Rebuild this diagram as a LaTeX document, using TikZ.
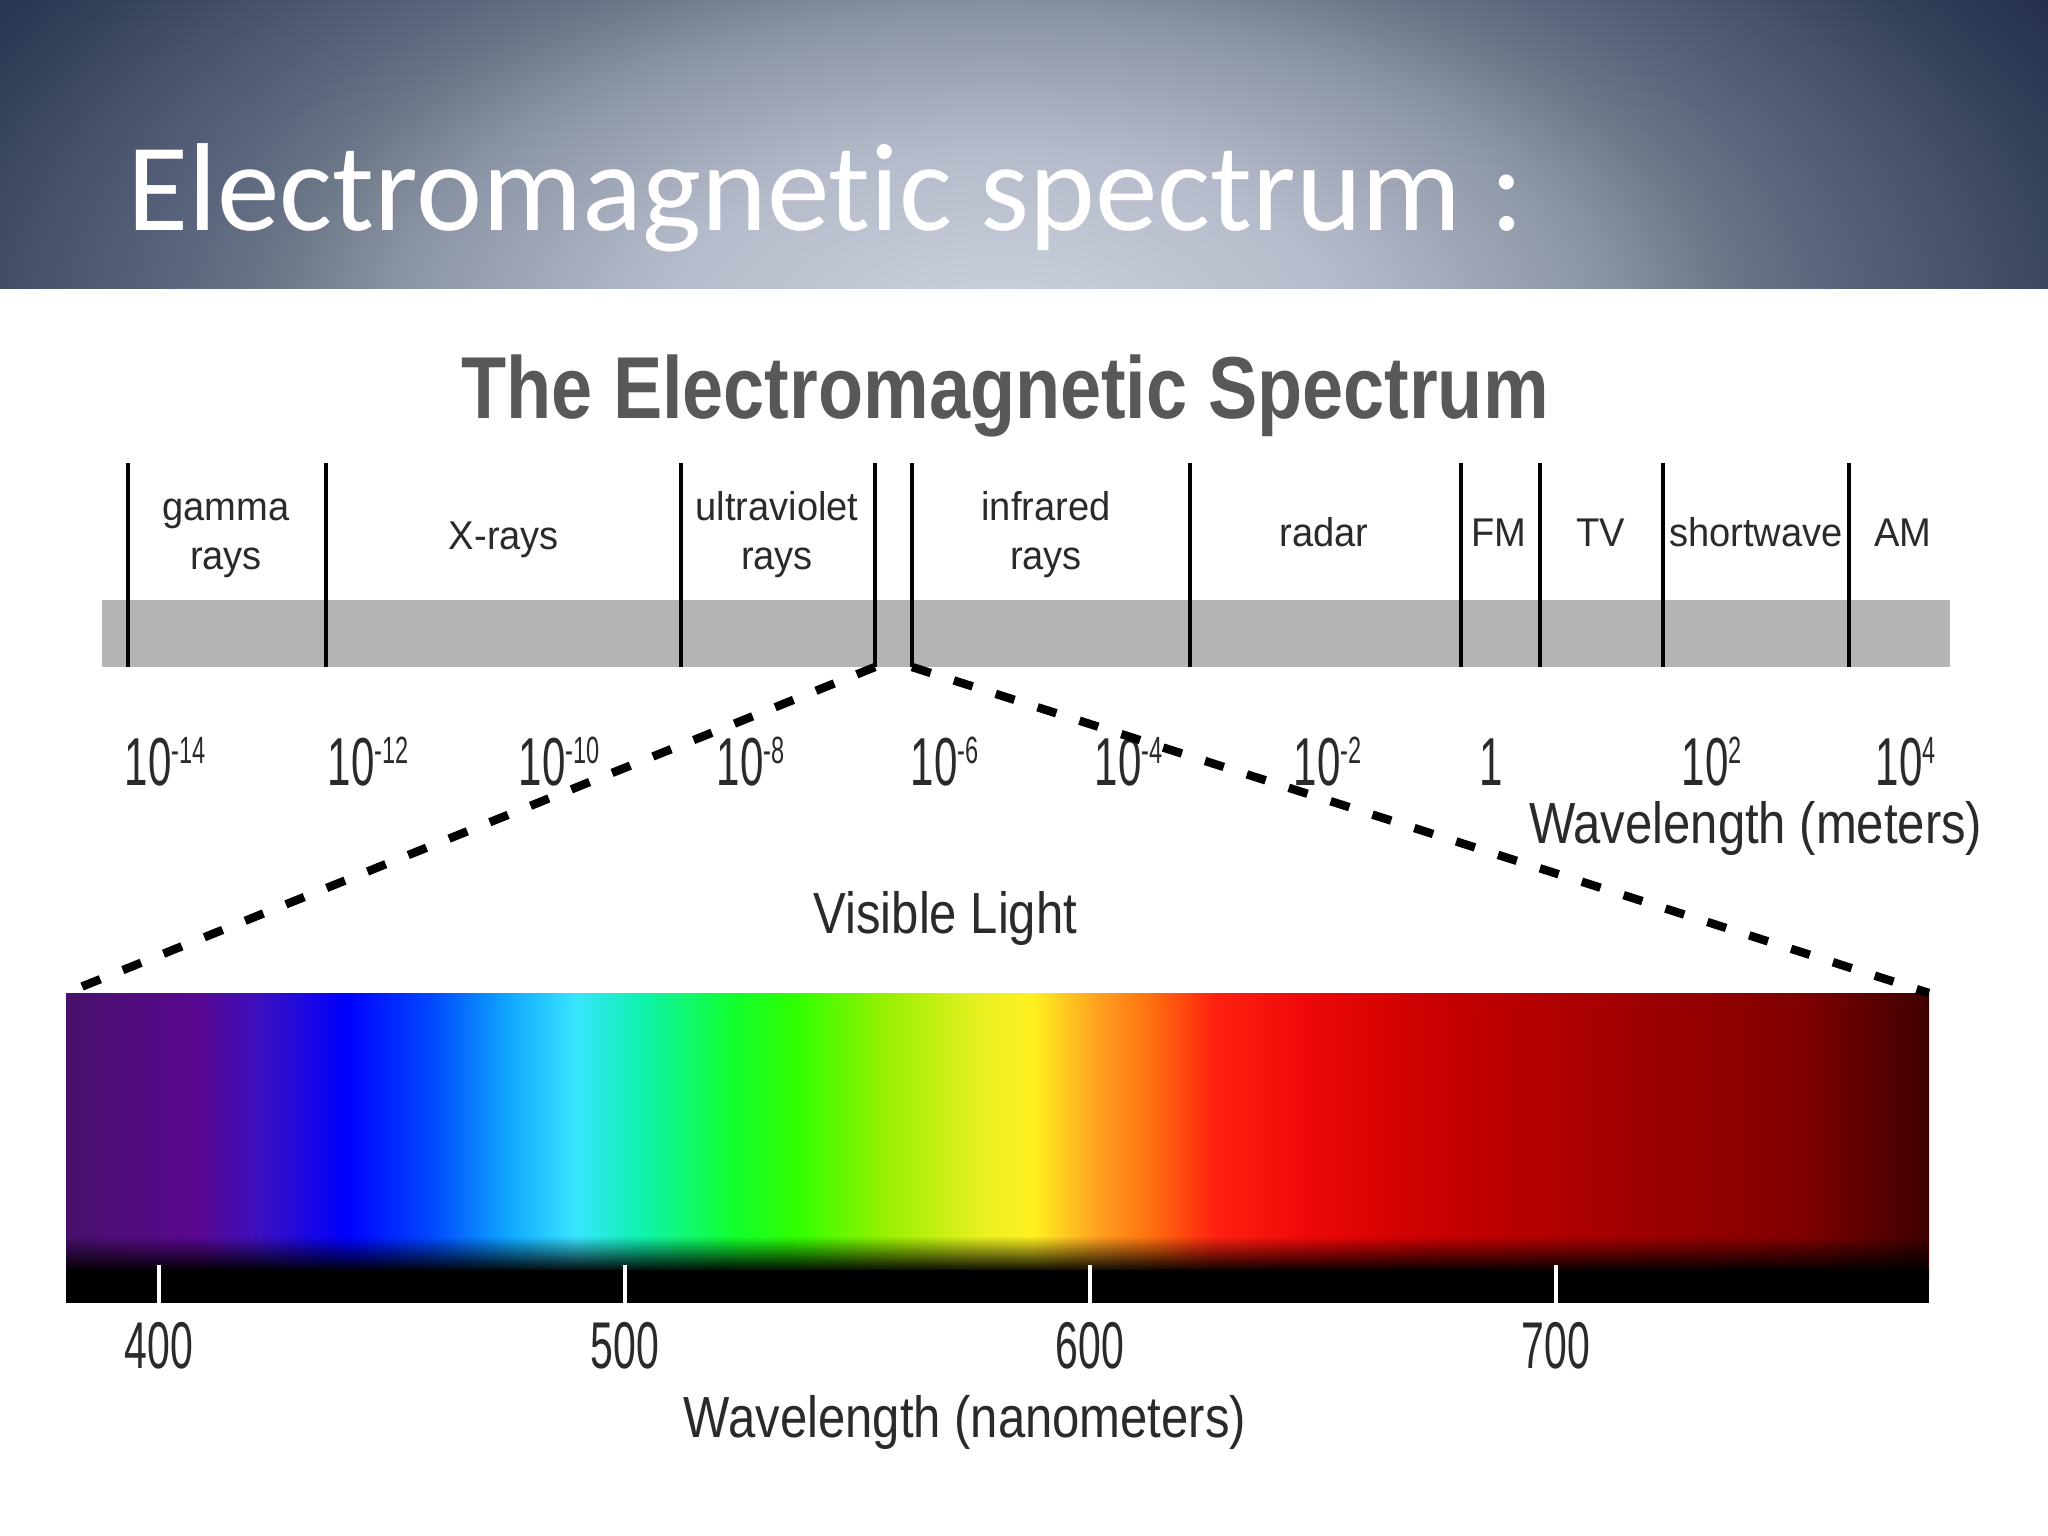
\documentclass[tikz,border=0pt]{standalone}
\usepackage{fontspec}
\setmainfont{Liberation Sans}
\newfontfamily\hdrfont[Ligatures=NoCommon]{Carlito}
\newfontfamily\dtitlefont[FakeStretch=0.84]{Liberation Sans}
\newfontfamily\labfont[FakeStretch=0.95]{Liberation Sans}
\newfontfamily\numfont[FakeStretch=0.62]{Liberation Sans}
\newfontfamily\axfont[FakeStretch=0.845]{Liberation Sans}
\usetikzlibrary{fadings}

\definecolor{hA}{HTML}{CDD2DE}
\definecolor{hB}{HTML}{B5BBCA}
\definecolor{hC}{HTML}{8B94A5}
\definecolor{hD}{HTML}{6C7788}
\definecolor{hE}{HTML}{5A667E}
\definecolor{hF}{HTML}{465269}
\definecolor{hG}{HTML}{33405A}
\definecolor{hH}{HTML}{1E2A48}
\pgfdeclareradialshading{hdrshade}{\pgfpoint{0bp}{0bp}}{%
color(0bp)=(hA); color(3.75bp)=(hB); color(6.6bp)=(hC); color(7.9bp)=(hD);
color(9bp)=(hE); color(10.6bp)=(hF); color(11.9bp)=(hG); color(13.75bp)=(hH); color(50bp)=(hH)}

\definecolor{s0}{HTML}{48106A}
\definecolor{s1}{HTML}{5A0890}
\definecolor{s2}{HTML}{3A10C0}
\definecolor{s3}{HTML}{0000FF}
\definecolor{s4}{HTML}{0048FF}
\definecolor{s5}{HTML}{10A8FF}
\definecolor{s6}{HTML}{38E4FF}
\definecolor{s7}{HTML}{10F2B0}
\definecolor{s8}{HTML}{10FF30}
\definecolor{s9}{HTML}{30FF00}
\definecolor{s10}{HTML}{98F000}
\definecolor{s11}{HTML}{E8F020}
\definecolor{s12}{HTML}{FFF020}
\definecolor{s13}{HTML}{FFA020}
\definecolor{s14}{HTML}{FF7010}
\definecolor{s15}{HTML}{FF2010}
\definecolor{s16}{HTML}{EE0808}
\definecolor{s17}{HTML}{C80000}
\definecolor{s18}{HTML}{A00000}
\definecolor{s19}{HTML}{800000}
\definecolor{s20}{HTML}{3E0000}
\pgfdeclarehorizontalshading{specshade}{100bp}{%
color(0bp)=(s0); color(25bp)=(s0); color(28.5bp)=(s1); color(30.25bp)=(s2);
color(32.5bp)=(s3); color(34.8bp)=(s4); color(36.9bp)=(s5); color(38.65bp)=(s6);
color(40.4bp)=(s7); color(42.85bp)=(s8); color(44.6bp)=(s9); color(47bp)=(s10);
color(49.5bp)=(s11); color(50.95bp)=(s12); color(52.7bp)=(s13); color(54.1bp)=(s14);
color(55.85bp)=(s15); color(58.3bp)=(s16); color(61.8bp)=(s17); color(67.05bp)=(s18);
color(71.6bp)=(s19); color(75bp)=(s20); color(100bp)=(s20)}

\definecolor{bandgray}{HTML}{B4B4B6}
\definecolor{titlegray}{HTML}{585858}
\definecolor{labtext}{HTML}{2A2A2A}
\newcommand{\pw}[1]{10\raisebox{0.31em}{\fontsize{10.8}{11}\selectfont #1}}

\begin{document}
\begin{tikzpicture}[x=0.01cm,y=-0.01cm,
  divider/.style={line width=1.3pt,black},
  zoomline/.style={line width=2.4pt,black,dash pattern=on 5.6pt off 6.9pt},
  bandlab/.style={font=\labfont\fontsize{11.4}{14.2}\selectfont,text=labtext,inner sep=0,align=center,anchor=center},
  numlab/.style={font=\numfont\fontsize{19.3}{20}\selectfont,text=labtext,inner sep=0,anchor=base west},
  axlab/.style={font=\axfont\fontsize{16.5}{18}\selectfont,text=labtext,inner sep=0},
  nmlab/.style={font=\numfont\fontsize{18.8}{20}\selectfont,text=labtext,inner sep=0,anchor=base},
  tick/.style={white,line width=0.9pt}]
\useasboundingbox (0,0) rectangle (2048,1536);
\fill[white] (0,0) rectangle (2048,1536);
% header
\begin{scope}
\clip (0,0) rectangle (2048,288);
\shade[shading=hdrshade] (-1300,-870) rectangle (3300,1530);
\end{scope}
\node[anchor=base west,text=white,font=\hdrfont\fontsize{35.6}{40}\selectfont,inner sep=0] (title) at (127,230) {Electromagnetic spectrum :};
% diagram title
\node[anchor=base,text=titlegray,font=\dtitlefont\bfseries\fontsize{25}{30}\selectfont,inner sep=0] (dtitle) at (1005,418) {The Electromagnetic Spectrum};
% band bar
\fill[bandgray] (102,600) rectangle (1950,667);
\foreach \x/\n in {128/d1,326/d2,681/d3,875/d4,912/d5,1190/d6,1461/d7,1540/d8,1663/d9,1849/d10}{
  \coordinate (\n t) at (\x,463);
  \coordinate (\n b) at (\x,667);
  \draw[divider] (\n t) -- (\n b);
}
% band labels
\node[bandlab] (gamma) at (226,535) {\strut gamma\\\strut rays};
\node[bandlab] (xray) at (504,540) {\strut X-rays};
\node[bandlab] (uv) at (777,535) {\strut ultraviolet\\\strut rays};
\node[bandlab] (ir) at (1046,535) {\strut infrared\\\strut rays};
\node[bandlab] (radar) at (1324,537) {\strut radar};
\node[bandlab] (fm) at (1499,537) {\strut FM};
\node[bandlab] (tv) at (1601,537) {\strut TV};
\node[bandlab] (sw) at (1756,537) {\strut shortwave};
\node[bandlab] (am) at (1903,537) {\strut AM};
% wavelength numbers (meters)
\node[numlab] (m14) at (124,785) {\pw{-14}};
\node[numlab] (m12) at (327,785) {\pw{-12}};
\node[numlab] (m10) at (518,785) {\pw{-10}};
\node[numlab] (m8) at (716,785) {\pw{-8}};
\node[numlab] (m6) at (910,785) {\pw{-6}};
\node[numlab] (m4) at (1094,785) {\pw{-4}};
\node[numlab] (m2) at (1293,785) {\pw{-2}};
\node[numlab,anchor=base] (m0) at (1491,785) {1};
\node[numlab] (p2) at (1681,785) {\pw{2}};
\node[numlab] (p4) at (1875,785) {\pw{4}};
\node[axlab,anchor=base east] (wlm) at (1983,843) {Wavelength (meters)};
\node[axlab,anchor=base west] (vis) at (813,933) {Visible Light};
% visible spectrum
\coordinate (specTL) at (66,993);
\coordinate (specTR) at (1929,993);
\shade[shading=specshade] (specTL) rectangle (1929,1280);
\fill[black,path fading=north] (66,1236) rectangle (1929,1272);
\fill[black] (66,1270) rectangle (1929,1303);
\foreach \x/\v in {159/400,625/500,1090/600,1556/700}{
  \draw[tick] (\x,1265) -- (\x,1303);
  \node[nmlab] (nm\v) at (\x,1368) {\v};
}
\node[axlab,anchor=base] (wlnm) at (965,1437) {Wavelength (nanometers)};
% zoom lines
\draw[zoomline] (d4b) -- (specTL);
\draw[zoomline] (d5b) -- (specTR);
\end{tikzpicture}
\end{document}
